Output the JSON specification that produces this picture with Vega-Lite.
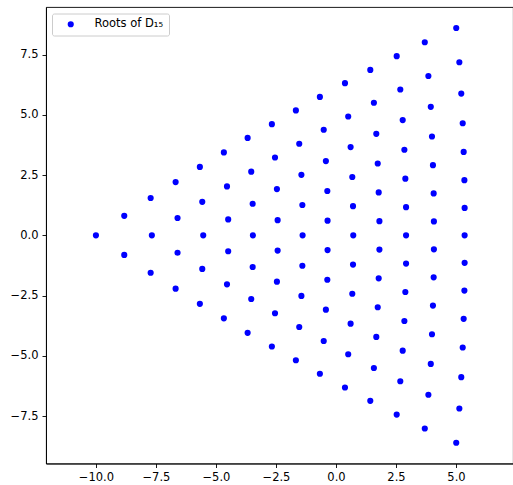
{
  "$schema": "https://vega.github.io/schema/vega-lite/v6.json",
  "width": 467,
  "height": 456.5,
  "autosize": {"type": "none"},
  "padding": {"left": 46, "top": 7, "right": 0, "bottom": 21.5},
  "background": "white",
  "config": {
    "view": {"stroke": "#000000", "strokeWidth": 0.9},
    "axis": {
      "grid": false,
      "domainColor": "#000000",
      "domainWidth": 0.9,
      "tickColor": "#000000",
      "tickWidth": 0.9,
      "tickSize": 4,
      "labelPadding": 4,
      "labelFont": "DejaVu Sans",
      "labelFontSize": 11.5,
      "labelColor": "#000000",
      "title": null
    }
  },
  "data": {
    "values": [
      {"x": -10.0, "y": 0},
      {"x": -8.82, "y": 0.81}, {"x": -8.82, "y": -0.81},
      {"x": -7.72, "y": 1.55}, {"x": -7.67, "y": 0}, {"x": -7.72, "y": -1.55},
      {"x": -6.68, "y": 2.21}, {"x": -6.60, "y": 0.72}, {"x": -6.60, "y": -0.72}, {"x": -6.68, "y": -2.21},
      {"x": -5.67, "y": 2.84}, {"x": -5.57, "y": 1.39}, {"x": -5.53, "y": 0}, {"x": -5.57, "y": -1.39}, {"x": -5.67, "y": -2.84},
      {"x": -4.67, "y": 3.44}, {"x": -4.54, "y": 2.03}, {"x": -4.49, "y": 0.66}, {"x": -4.49, "y": -0.66}, {"x": -4.54, "y": -2.03}, {"x": -4.67, "y": -3.44},
      {"x": -3.68, "y": 4.04}, {"x": -3.53, "y": 2.64}, {"x": -3.47, "y": 1.31}, {"x": -3.46, "y": 0}, {"x": -3.47, "y": -1.31}, {"x": -3.53, "y": -2.64}, {"x": -3.68, "y": -4.04},
      {"x": -2.67, "y": 4.61}, {"x": -2.54, "y": 3.23}, {"x": -2.46, "y": 1.92}, {"x": -2.43, "y": 0.63}, {"x": -2.43, "y": -0.63}, {"x": -2.46, "y": -1.92}, {"x": -2.54, "y": -3.23}, {"x": -2.67, "y": -4.61},
      {"x": -1.67, "y": 5.18}, {"x": -1.53, "y": 3.80}, {"x": -1.44, "y": 2.51}, {"x": -1.40, "y": 1.26}, {"x": -1.39, "y": 0}, {"x": -1.40, "y": -1.26}, {"x": -1.44, "y": -2.51}, {"x": -1.53, "y": -3.80}, {"x": -1.67, "y": -5.18},
      {"x": -0.67, "y": 5.74}, {"x": -0.51, "y": 4.38}, {"x": -0.42, "y": 3.08}, {"x": -0.36, "y": 1.84}, {"x": -0.35, "y": 0.61}, {"x": -0.35, "y": -0.61}, {"x": -0.36, "y": -1.84}, {"x": -0.42, "y": -3.08}, {"x": -0.51, "y": -4.38}, {"x": -0.67, "y": -5.74},
      {"x": 0.375, "y": 6.31}, {"x": 0.51, "y": 4.93}, {"x": 0.61, "y": 3.66}, {"x": 0.68, "y": 2.42}, {"x": 0.71, "y": 1.21}, {"x": 0.72, "y": 0}, {"x": 0.71, "y": -1.21}, {"x": 0.68, "y": -2.42}, {"x": 0.61, "y": -3.66}, {"x": 0.51, "y": -4.93}, {"x": 0.375, "y": -6.31},
      {"x": 1.43, "y": 6.86}, {"x": 1.58, "y": 5.50}, {"x": 1.68, "y": 4.21}, {"x": 1.74, "y": 2.98}, {"x": 1.78, "y": 1.78}, {"x": 1.81, "y": 0.59}, {"x": 1.81, "y": -0.59}, {"x": 1.78, "y": -1.78}, {"x": 1.74, "y": -2.98}, {"x": 1.68, "y": -4.21}, {"x": 1.58, "y": -5.50}, {"x": 1.43, "y": -6.86},
      {"x": 2.53, "y": 7.43}, {"x": 2.68, "y": 6.05}, {"x": 2.78, "y": 4.78}, {"x": 2.85, "y": 3.55}, {"x": 2.89, "y": 2.35}, {"x": 2.92, "y": 1.17}, {"x": 2.92, "y": 0}, {"x": 2.92, "y": -1.17}, {"x": 2.89, "y": -2.35}, {"x": 2.85, "y": -3.55}, {"x": 2.78, "y": -4.78}, {"x": 2.68, "y": -6.05}, {"x": 2.53, "y": -7.43},
      {"x": 3.70, "y": 8.01}, {"x": 3.85, "y": 6.61}, {"x": 3.95, "y": 5.33}, {"x": 4.00, "y": 4.10}, {"x": 4.04, "y": 2.91}, {"x": 4.07, "y": 1.74}, {"x": 4.08, "y": 0.58}, {"x": 4.08, "y": -0.58}, {"x": 4.07, "y": -1.74}, {"x": 4.04, "y": -2.91}, {"x": 4.00, "y": -4.10}, {"x": 3.95, "y": -5.33}, {"x": 3.85, "y": -6.61}, {"x": 3.70, "y": -8.01},
      {"x": 5.01, "y": 8.60}, {"x": 5.14, "y": 7.18}, {"x": 5.22, "y": 5.88}, {"x": 5.28, "y": 4.65}, {"x": 5.32, "y": 3.46}, {"x": 5.35, "y": 2.29}, {"x": 5.36, "y": 1.14}, {"x": 5.36, "y": 0}, {"x": 5.36, "y": -1.14}, {"x": 5.35, "y": -2.29}, {"x": 5.32, "y": -3.46}, {"x": 5.28, "y": -4.65}, {"x": 5.22, "y": -5.88}, {"x": 5.14, "y": -7.18}, {"x": 5.01, "y": -8.60}
    ]
  },
  "mark": {"type": "point", "filled": true, "size": 38, "opacity": 1, "strokeWidth": 0},
  "encoding": {
    "x": {
      "field": "x", "type": "quantitative",
      "scale": {"domain": [-12.08, 7.375], "nice": false, "zero": false},
      "axis": {"values": [-10, -7.5, -5, -2.5, 0, 2.5, 5], "format": ".1f"}
    },
    "y": {
      "field": "y", "type": "quantitative",
      "scale": {"domain": [-9.46, 9.47], "nice": false, "zero": false},
      "axis": {"values": [-7.5, -5, -2.5, 0, 2.5, 5, 7.5], "format": ".1f"}
    },
    "color": {
      "datum": "Roots of D₁₅",
      "scale": {"range": ["#0000ff"]},
      "legend": {
        "orient": "none",
        "legendX": 6,
        "legendY": 6.5,
        "title": null,
        "padding": 5,
        "strokeColor": "#cccccc",
        "fillColor": "rgba(255,255,255,0.8)",
        "cornerRadius": 2,
        "symbolType": "circle",
        "symbolSize": 38,
        "symbolStrokeWidth": 0,
        "symbolOffset": 8,
        "labelOffset": 18,
        "labelFont": "DejaVu Sans",
        "labelFontSize": 11.5,
        "labelColor": "#000000"
      }
    }
  }
}
